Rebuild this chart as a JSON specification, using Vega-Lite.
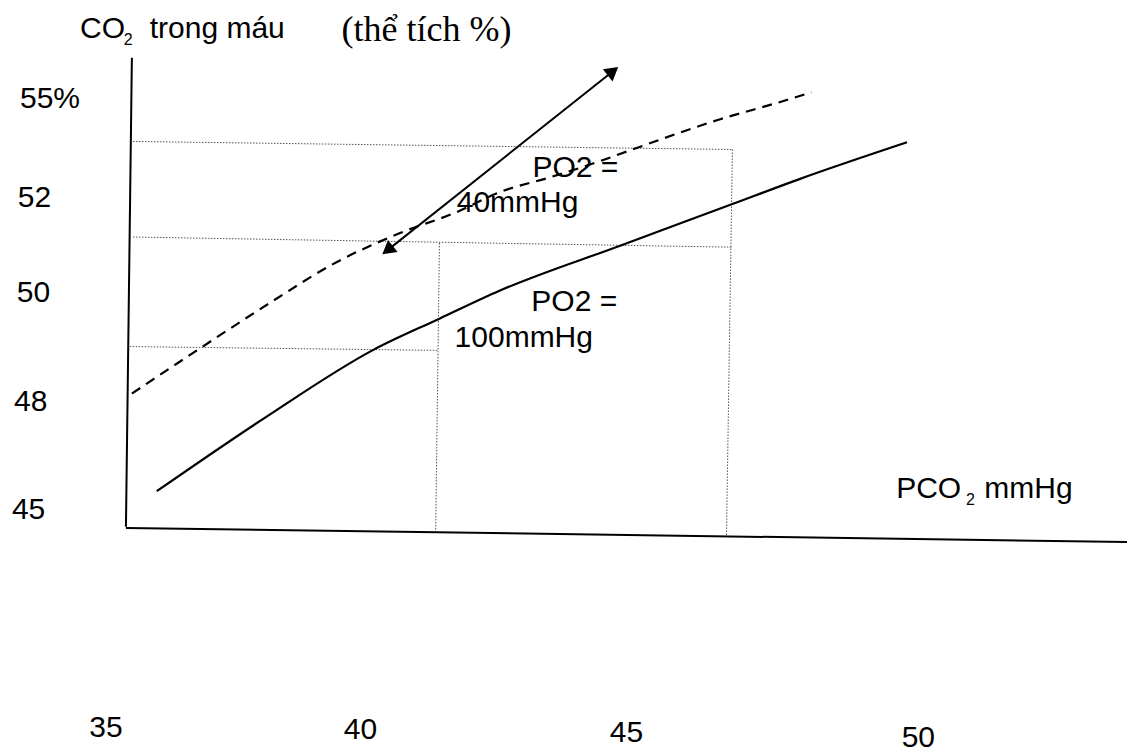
{
  "$schema": "https://vega.github.io/schema/vega-lite/v6.json",
  "width": 1128,
  "height": 754,
  "autosize": {"type": "fit", "contains": "padding"},
  "padding": 0,
  "background": "white",
  "config": {"view": {"stroke": null}},
  "datasets": {
    "frame": [
      {"x": 35.64, "y": 55.71, "x2": 35.53, "y2": 44.62},
      {"x": 35.53, "y": 44.59, "x2": 54.05, "y2": 44.26}
    ],
    "guides": [
      {"x": 35.66, "y": 53.73, "x2": 46.75, "y2": 53.54},
      {"x": 46.75, "y": 53.54, "x2": 46.64, "y2": 44.40},
      {"x": 35.66, "y": 51.47, "x2": 46.75, "y2": 51.23},
      {"x": 41.33, "y": 51.33, "x2": 41.26, "y2": 44.50},
      {"x": 35.60, "y": 48.88, "x2": 41.30, "y2": 48.79}
    ],
    "po2_40": [
      {"x": 35.64, "y": 47.77}, {"x": 36.95, "y": 48.88}, {"x": 38.25, "y": 49.96},
      {"x": 39.36, "y": 50.83}, {"x": 40.59, "y": 51.56}, {"x": 41.65, "y": 52.06},
      {"x": 42.44, "y": 52.53}, {"x": 43.37, "y": 52.88}, {"x": 44.29, "y": 53.26},
      {"x": 44.90, "y": 53.54}, {"x": 46.51, "y": 54.25}, {"x": 47.65, "y": 54.67},
      {"x": 48.21, "y": 54.89}
    ],
    "po2_100": [
      {"x": 36.10, "y": 45.46}, {"x": 38.14, "y": 47.23}, {"x": 40.09, "y": 48.79},
      {"x": 41.33, "y": 49.54}, {"x": 42.44, "y": 50.20}, {"x": 44.66, "y": 51.26},
      {"x": 46.75, "y": 52.25}, {"x": 47.99, "y": 52.84}, {"x": 49.98, "y": 53.71}
    ],
    "arrow": [{"x": 40.33, "y": 51.12, "x2": 44.58, "y2": 55.43}],
    "arrow_low": [{"x": 40.37, "y": 51.16}],
    "arrow_high": [{"x": 44.54, "y": 55.39}],
    "sans": [
      {"x": 34.68, "y": 56.18, "label": "CO"},
      {"x": 35.97, "y": 56.18, "label": "trong máu"},
      {"x": 33.57, "y": 54.51, "label": "55%"},
      {"x": 33.53, "y": 52.18, "label": "52"},
      {"x": 33.51, "y": 49.94, "label": "50"},
      {"x": 33.46, "y": 47.35, "label": "48"},
      {"x": 33.42, "y": 44.81, "label": "45"},
      {"x": 43.05, "y": 52.88, "label": "PO2 ="},
      {"x": 41.65, "y": 52.06, "label": "40mmHg"},
      {"x": 43.03, "y": 49.73, "label": "PO2 ="},
      {"x": 41.61, "y": 48.88, "label": "100mmHg"},
      {"x": 49.78, "y": 45.30, "label": "PCO"},
      {"x": 51.41, "y": 45.30, "label": "mmHg"}
    ],
    "subs": [
      {"x": 35.49, "y": 56.02, "label": "2"},
      {"x": 51.07, "y": 45.13, "label": "2"}
    ],
    "serif": [{"x": 39.52, "y": 56.11, "label": "(thể tích %)"}],
    "xlabels": [
      {"x": 35.16, "y": 39.65, "label": "35"},
      {"x": 39.87, "y": 39.60, "label": "40"},
      {"x": 44.79, "y": 39.53, "label": "45"},
      {"x": 50.19, "y": 39.41, "label": "50"}
    ]
  },
  "encoding": {
    "x": {"field": "x", "type": "quantitative", "scale": {"domain": [33.2, 54.05], "nice": false, "zero": false}, "axis": null},
    "y": {"field": "y", "type": "quantitative", "scale": {"domain": [39.317, 57.075], "nice": false, "zero": false}, "axis": null}
  },
  "layer": [
    {
      "data": {"name": "guides"},
      "mark": {"type": "rule", "color": "#555555", "strokeWidth": 1, "strokeDash": [1.5, 1.5]},
      "encoding": {"x2": {"field": "x2"}, "y2": {"field": "y2"}}
    },
    {
      "data": {"name": "frame"},
      "mark": {"type": "rule", "color": "black", "strokeWidth": 2},
      "encoding": {"x2": {"field": "x2"}, "y2": {"field": "y2"}}
    },
    {
      "data": {"name": "po2_40"},
      "mark": {"type": "line", "color": "black", "strokeWidth": 2.2, "strokeDash": [10, 7], "interpolate": "monotone"},
      "encoding": {}
    },
    {
      "data": {"name": "po2_100"},
      "mark": {"type": "line", "color": "black", "strokeWidth": 2.2, "interpolate": "monotone"},
      "encoding": {}
    },
    {
      "data": {"name": "arrow"},
      "mark": {"type": "rule", "color": "black", "strokeWidth": 2},
      "encoding": {"x2": {"field": "x2"}, "y2": {"field": "y2"}}
    },
    {
      "data": {"name": "arrow_low"},
      "mark": {"type": "point", "shape": "triangle-up", "filled": true, "color": "black", "size": 240, "angle": 231.5, "opacity": 1},
      "encoding": {}
    },
    {
      "data": {"name": "arrow_high"},
      "mark": {"type": "point", "shape": "triangle-up", "filled": true, "color": "black", "size": 240, "angle": 51.5, "opacity": 1},
      "encoding": {}
    },
    {
      "data": {"name": "sans"},
      "mark": {"type": "text", "font": "Liberation Sans", "fontSize": 30, "align": "left", "baseline": "alphabetic", "color": "black"},
      "encoding": {"text": {"field": "label"}}
    },
    {
      "data": {"name": "subs"},
      "mark": {"type": "text", "font": "Liberation Sans", "fontSize": 16, "align": "left", "baseline": "alphabetic", "color": "black"},
      "encoding": {"text": {"field": "label"}}
    },
    {
      "data": {"name": "serif"},
      "mark": {"type": "text", "font": "Liberation Serif", "fontSize": 36, "align": "left", "baseline": "alphabetic", "color": "black"},
      "encoding": {"text": {"field": "label"}}
    },
    {
      "data": {"name": "xlabels"},
      "mark": {"type": "text", "font": "Liberation Sans", "fontSize": 30, "align": "center", "baseline": "alphabetic", "color": "black"},
      "encoding": {"text": {"field": "label"}}
    }
  ]
}
